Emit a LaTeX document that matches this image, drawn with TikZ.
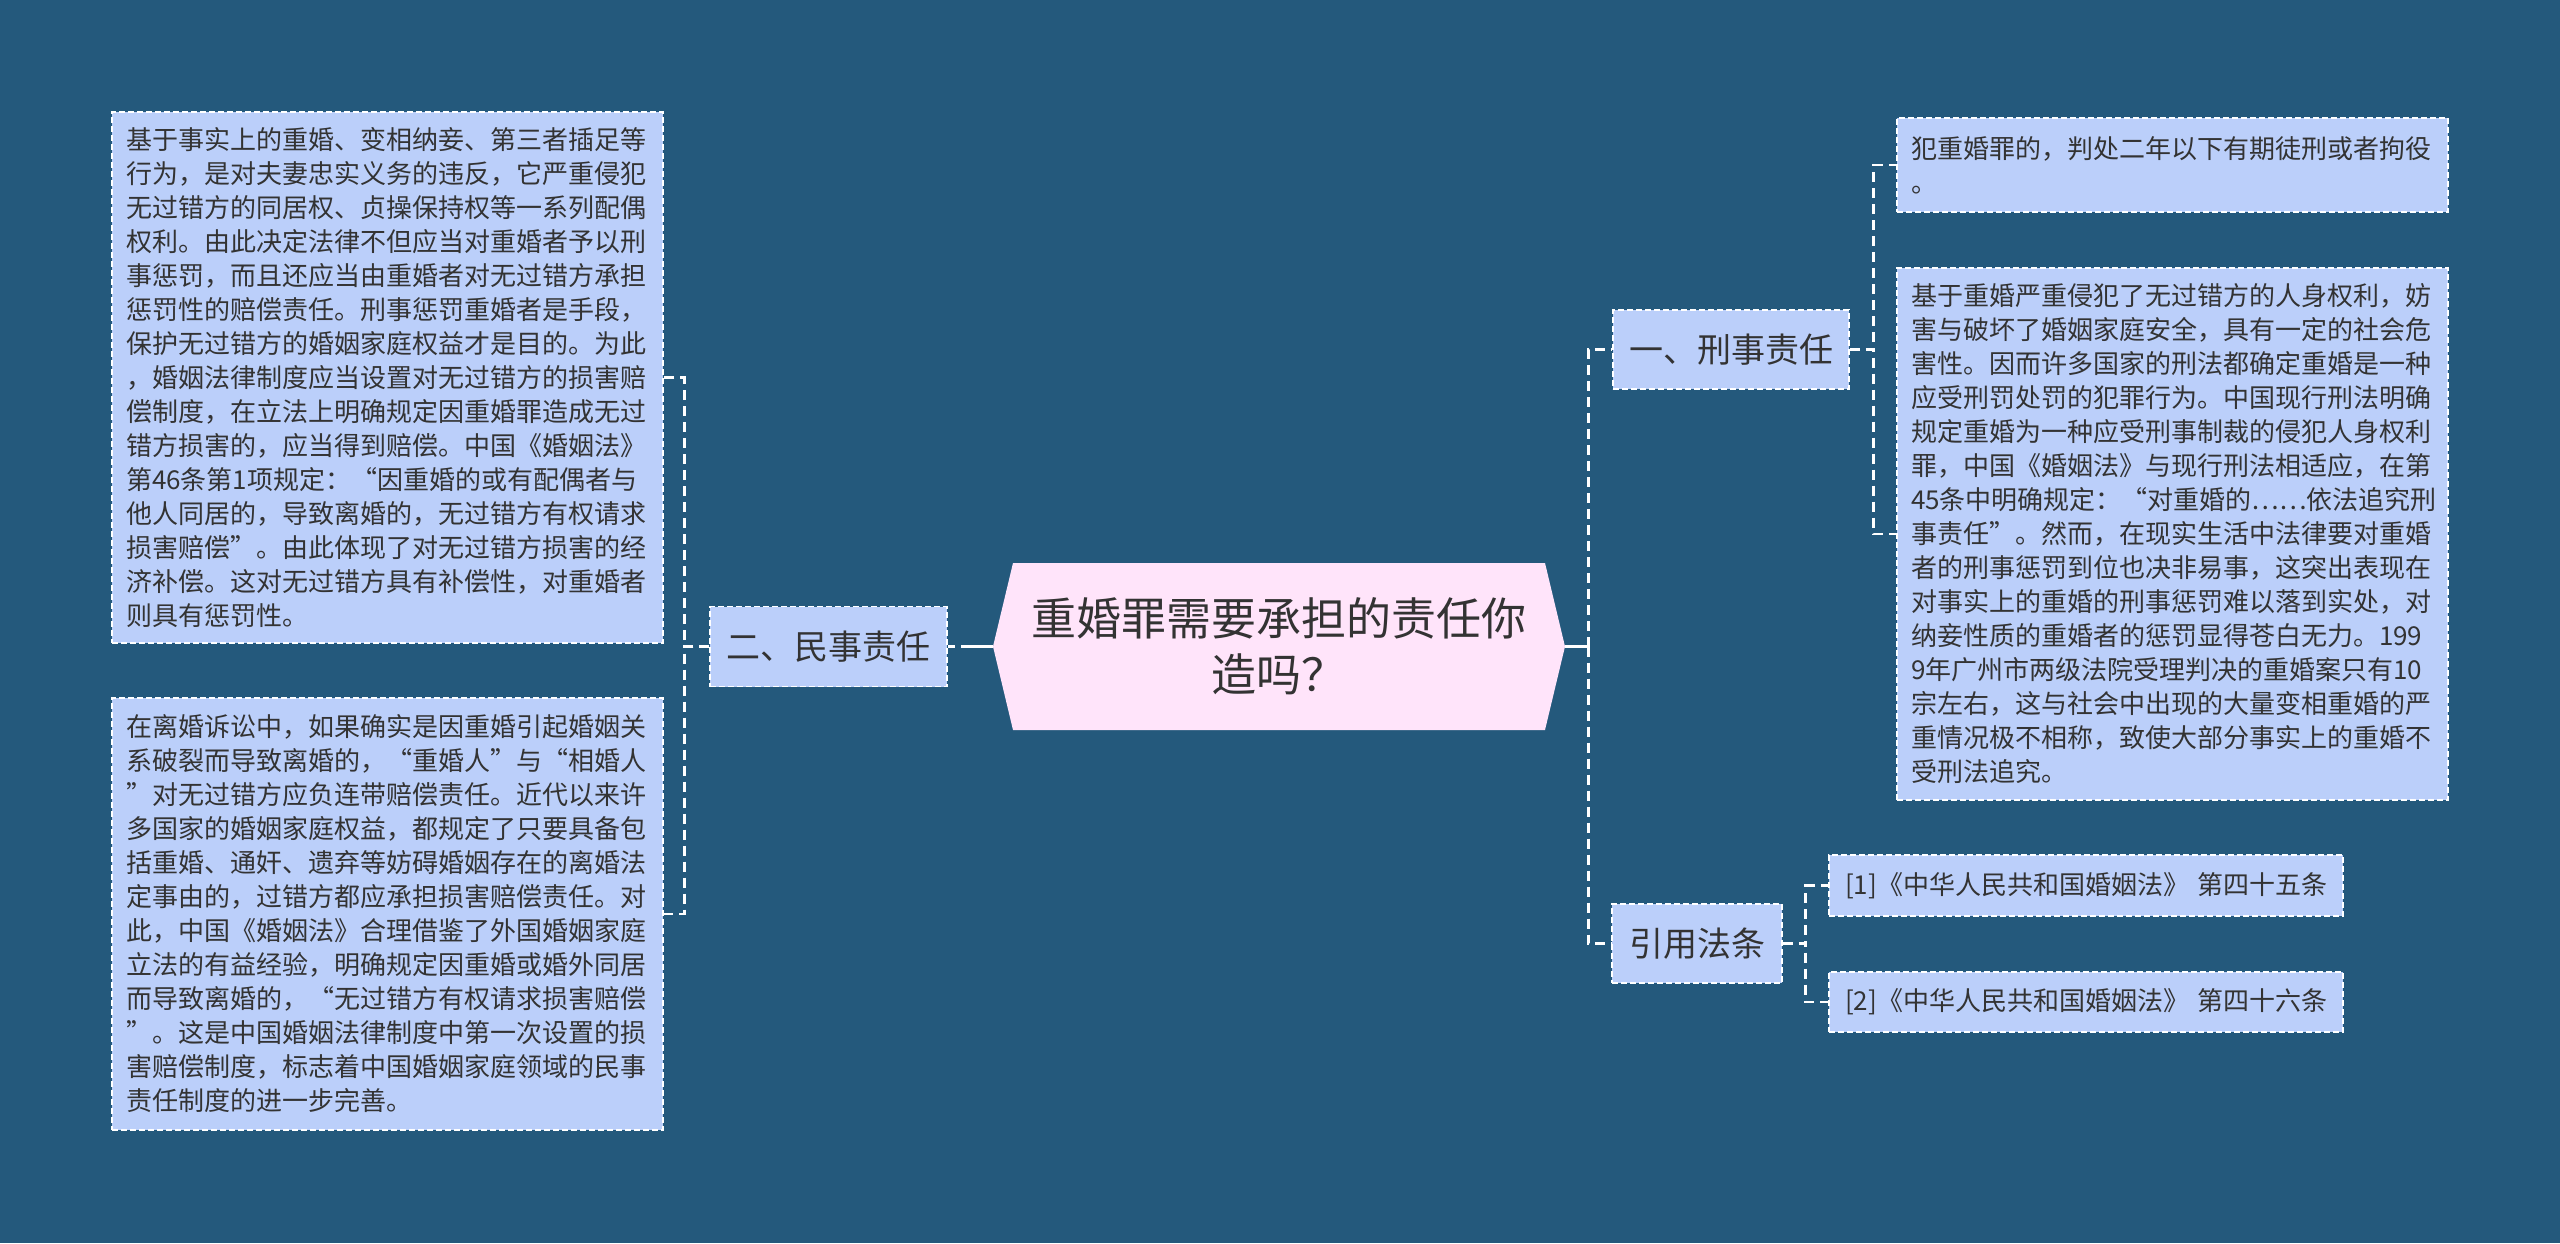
\documentclass[tikz,border=0pt]{standalone}
\usepackage{fontspec}
\setmainfont{Noto Sans CJK SC}
\definecolor{bg}{RGB}{36,89,124}
\definecolor{boxfill}{RGB}{187,207,250}
\definecolor{rootfill}{RGB}{255,228,250}
\definecolor{txt}{RGB}{51,51,51}
\begin{document}
\begin{tikzpicture}[x=1pt,y=-1pt,
  conn/.style={draw=white,line width=2.7pt,dash pattern=on 10pt off 6pt},
  solidconn/.style={draw=white,line width=2.7pt},
  leaf/.style={draw=white,line width=1.5pt,dash pattern=on 6pt off 3pt,fill=boxfill,text=txt,inner sep=0pt,align=left,font=\fontsize{26}{34}\selectfont},
  mid/.style={draw=white,line width=1.5pt,dash pattern=on 6pt off 3pt,fill=boxfill,text=txt,inner sep=0pt,font=\fontsize{34}{40}\selectfont},
]
\fill[bg] (0,0) rectangle (2560,1243);
\useasboundingbox (0,0) rectangle (2560,1243);

% root hexagon
\fill[rootfill] (1013,563) -- (1545,563) -- (1565,646.5) -- (1545,730) -- (1013,730) -- (993,646.5) -- cycle;
\node[text=txt,align=center,font=\fontsize{45}{56}\selectfont,minimum width=572pt,minimum height=167pt,inner sep=0pt] (root) at (1279,646.5) {重婚罪需要承担的责任你\\造吗？};

% level 1
\node[mid,minimum width=236pt,minimum height=79pt] (m1) at (1731,349.5) {一、刑事责任};
\node[mid,minimum width=237pt,minimum height=80pt] (m2) at (828.5,646.5) {二、民事责任};
\node[mid,minimum width=170pt,minimum height=79pt] (m3) at (1697,943.5) {引用法条};

% leaves
\node[leaf,minimum width=551pt,minimum height=531pt,text width=523pt] (l1) at (387.5,377.5) {基于事实上的重婚、变相纳妾、第三者插足等\\行为，是对夫妻忠实义务的违反，它严重侵犯\\无过错方的同居权、贞操保持权等一系列配偶\\权利。由此决定法律不但应当对重婚者予以刑\\事惩罚，而且还应当由重婚者对无过错方承担\\惩罚性的赔偿责任。刑事惩罚重婚者是手段，\\保护无过错方的婚姻家庭权益才是目的。为此\\，婚姻法律制度应当设置对无过错方的损害赔\\偿制度，在立法上明确规定因重婚罪造成无过\\错方损害的，应当得到赔偿。中国《婚姻法》\\第46条第1项规定：“因重婚的或有配偶者与\\他人同居的，导致离婚的，无过错方有权请求\\损害赔偿”。由此体现了对无过错方损害的经\\济补偿。这对无过错方具有补偿性，对重婚者\\则具有惩罚性。};

\node[leaf,minimum width=551pt,minimum height=432pt,text width=523pt] (l2) at (387.5,914) {在离婚诉讼中，如果确实是因重婚引起婚姻关\\系破裂而导致离婚的，“重婚人”与“相婚人\\”对无过错方应负连带赔偿责任。近代以来许\\多国家的婚姻家庭权益，都规定了只要具备包\\括重婚、通奸、遗弃等妨碍婚姻存在的离婚法\\定事由的，过错方都应承担损害赔偿责任。对\\此，中国《婚姻法》合理借鉴了外国婚姻家庭\\立法的有益经验，明确规定因重婚或婚外同居\\而导致离婚的，“无过错方有权请求损害赔偿\\”。这是中国婚姻法律制度中第一次设置的损\\害赔偿制度，标志着中国婚姻家庭领域的民事\\责任制度的进一步完善。};

\node[leaf,minimum width=551pt,minimum height=94pt,text width=523pt] (r1) at (2172.5,165) {犯重婚罪的，判处二年以下有期徒刑或者拘役\\。};

\node[leaf,minimum width=551pt,minimum height=532pt,text width=523pt] (r2) at (2172.5,534) {基于重婚严重侵犯了无过错方的人身权利，妨\\害与破坏了婚姻家庭安全，具有一定的社会危\\害性。因而许多国家的刑法都确定重婚是一种\\应受刑罚处罚的犯罪行为。中国现行刑法明确\\规定重婚为一种应受刑事制裁的侵犯人身权利\\罪，中国《婚姻法》与现行刑法相适应，在第\\45条中明确规定：“对重婚的……依法追究刑\\事责任”。然而，在现实生活中法律要对重婚\\者的刑事惩罚到位也决非易事，这突出表现在\\对事实上的重婚的刑事惩罚难以落到实处，对\\纳妾性质的重婚者的惩罚显得苍白无力。199\\9年广州市两级法院受理判决的重婚案只有10\\宗左右，这与社会中出现的大量变相重婚的严\\重情况极不相称，致使大部分事实上的重婚不\\受刑法追究。};

\node[leaf,minimum width=514pt,minimum height=61pt,text width=482pt] (f1) at (2086,885.5) {[1]《中华人民共和国婚姻法》~第四十五条};
\node[leaf,minimum width=514pt,minimum height=60pt,text width=482pt] (f2) at (2086,1002) {[2]《中华人民共和国婚姻法》~第四十六条};

% connectors
\draw[conn,dash pattern=on 32pt off 6pt] (root.west) -- (m2.east);
\draw[conn] (m2.west) -- ++(-25,0) |- (l1.east);
\draw[conn] (m2.west) -- ++(-25,0) |- (l2.east);
\draw[solidconn] (root.east) -- ++(23,0) coordinate (rsp);
\draw[conn] (rsp) |- (m1.west);
\draw[conn] (rsp) |- (m3.west);
\draw[conn] (m1.east) -- ++(24,0) |- (r1.west);
\draw[conn] (m1.east) -- ++(24,0) |- (r2.west);
\draw[conn] (m3.east) -- ++(23,0) |- (f1.west);
\draw[conn] (m3.east) -- ++(23,0) |- (f2.west);
\end{tikzpicture}
\end{document}
